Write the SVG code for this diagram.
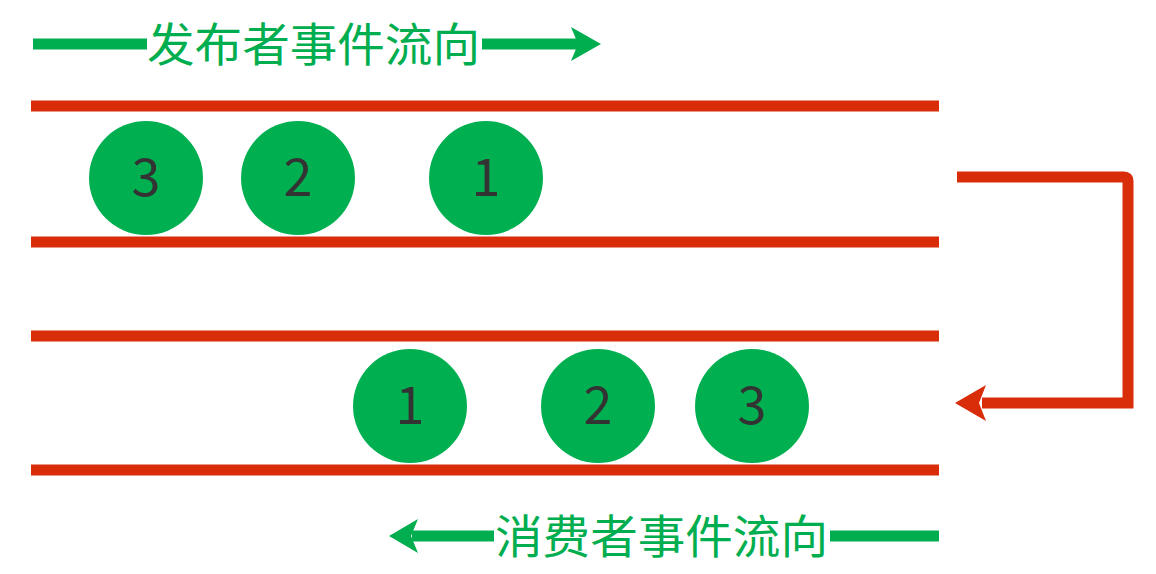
<svg xmlns="http://www.w3.org/2000/svg" width="1156" height="574" viewBox="0 0 1156 574">
<style>
.rail{stroke:#d92d0a;stroke-width:11;fill:none}
.flow{stroke:#00ae4f;stroke-width:11;fill:none}
.ball{fill:#00af50}
.num{font-family:"Noto Sans CJK SC","Open Sans",sans-serif;font-size:52px;fill:#333;text-anchor:middle}
.lbl{font-family:"Noto Sans CJK SC",sans-serif;font-size:46px;fill:#00ae4f}
</style>
<rect width="1156" height="574" fill="#fff"/>
<g id="rails">
<line class="rail" x1="31" y1="106" x2="939" y2="106"/>
<line class="rail" x1="31" y1="242" x2="939" y2="242"/>
<line class="rail" x1="31" y1="336" x2="939" y2="336"/>
<line class="rail" x1="31" y1="470" x2="939" y2="470"/>
</g>
<g id="publisher-flow">
<line class="flow" x1="33" y1="44" x2="147" y2="44"/>
<line class="flow" x1="482" y1="44" x2="578" y2="44"/>
<polygon points="601,44 571,27 578,44 571,61" fill="#00ae4f"/>
<text class="lbl" x="147" y="61" textLength="333" lengthAdjust="spacingAndGlyphs">发布者事件流向</text>
</g>
<g id="consumer-flow">
<line class="flow" x1="412" y1="536" x2="494" y2="536"/>
<line class="flow" x1="830" y1="536" x2="939" y2="536"/>
<polygon points="389,536 418,519 411,536 418,553" fill="#00ae4f"/>
<text class="lbl" x="495" y="553" textLength="333" lengthAdjust="spacingAndGlyphs">消费者事件流向</text>
</g>
<g id="p3"><circle class="ball" cx="146" cy="178" r="57"/><text class="num" x="146" y="196">3</text></g>
<g id="p2"><circle class="ball" cx="298" cy="178" r="57"/><text class="num" x="298" y="196">2</text></g>
<g id="p1"><circle class="ball" cx="486" cy="178" r="57"/><text class="num" x="486" y="196">1</text></g>
<g id="c1"><circle class="ball" cx="410" cy="406" r="57"/><text class="num" x="410" y="424">1</text></g>
<g id="c2"><circle class="ball" cx="598" cy="406" r="57"/><text class="num" x="598" y="424">2</text></g>
<g id="c3"><circle class="ball" cx="752" cy="406" r="57"/><text class="num" x="752" y="424">3</text></g>
<g id="connectors">
<path class="rail" d="M957 177 H1124 Q1128 177 1128 181 V403 H982"/>
<polygon points="955,403 986,385 979,403 986,421" fill="#d92d0a"/>
</g>
</svg>
